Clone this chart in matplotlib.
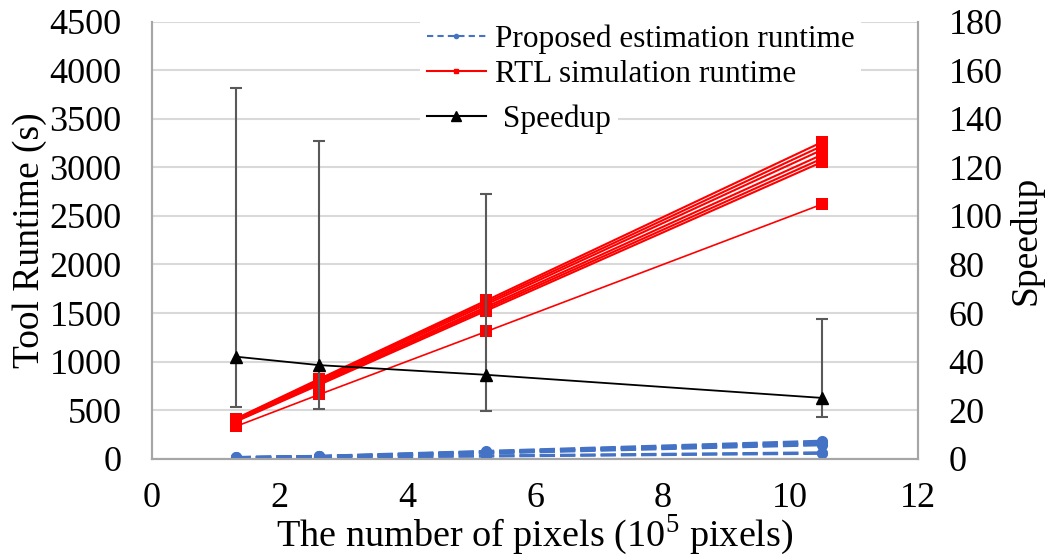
import matplotlib
matplotlib.use("Agg")
import matplotlib.pyplot as plt
from matplotlib.lines import Line2D
import numpy as np

plt.rcParams['font.family'] = ['Liberation Serif', 'DejaVu Serif']
plt.rcParams['mathtext.fontset'] = 'custom'
plt.rcParams['mathtext.rm'] = 'Liberation Serif'

# Data (x in 10^5 pixels)
pixels = [1.31, 2.62, 5.24, 10.49]

rtl_runtime = [
    [410, 820, 1630, 3260],
    [405, 810, 1610, 3220],
    [400, 795, 1590, 3180],
    [392, 780, 1565, 3130],
    [386, 770, 1545, 3090],
    [380, 760, 1525, 3055],
    [330, 660, 1310, 2620],
]
rtl_widths = [1.5, 1.5, 1.5, 1.5, 1.5, 1.5, 1.2]

est_runtime = [
    [12, 24, 75, 180],
    [11, 22, 70, 170],
    [10, 21, 65, 160],
    [10, 20, 60, 150],
    [9, 19, 55, 140],
    [8, 16, 28, 60],
    [7, 14, 24, 52],
]

speedup = [42, 38.5, 34.5, 25]
speedup_min = [21.2, 20.3, 19.7, 17.2]
speedup_max = [152.8, 131, 109, 57.5]

yticks_left = list(range(0, 4501, 500))
yticks_right = list(range(0, 181, 20))
xticks = list(range(0, 13, 2))

RED = "#ff0000"
BLUE = "#4472c4"
GRID = "#d9d9d9"
SPINE = "#a6a6a6"

fig = plt.figure(figsize=(10.51, 5.58), dpi=100)
ax = fig.add_axes([0.1446, 0.1783, 0.8735 - 0.1446, 0.9606 - 0.1783])
ax2 = ax.twinx()

for vals in est_runtime:
    ax.plot(pixels, vals, color=BLUE, lw=2.0, dashes=(5.5, 1.8),
            marker='o', markersize=8, markeredgewidth=0, zorder=3)
for vals, lw in zip(rtl_runtime, rtl_widths):
    ax.plot(pixels, vals, color=RED, lw=lw,
            marker='s', markersize=8, markeredgewidth=0, zorder=4)

sp = np.array(speedup)
yerr = [sp - np.array(speedup_min), np.array(speedup_max) - sp]
ax2.errorbar(pixels, speedup, yerr=yerr, color='black', lw=1.3,
             marker='^', markersize=8, ecolor='#595959', elinewidth=1.5,
             capsize=4, capthick=1.5, zorder=5)

ax.set_xlim(0, 12)
ax.set_ylim(0, 4500)
ax2.set_ylim(0, 180)
ax.set_xticks(xticks)
ax.set_yticks(yticks_left)
ax2.set_yticks(yticks_right)

ax.grid(axis='y', color=GRID, lw=1.5)
ax.set_axisbelow(True)

for a in (ax, ax2):
    a.spines['top'].set_visible(False)
    for s in ('left', 'right', 'bottom'):
        a.spines[s].set_color(SPINE)
        a.spines[s].set_linewidth(1.5)
    a.tick_params(length=0, labelsize=26)
ax.tick_params(axis='y', pad=22)
ax2.tick_params(axis='y', pad=22)
ax.tick_params(axis='x', pad=17)

ax.set_ylabel("Tool Runtime (s)", fontsize=27, labelpad=2)
ax2.set_ylabel("Speedup", fontsize=27, labelpad=4)
ax.set_xlabel("The number of pixels (10$^{\\mathrm{5}}$ pixels)", fontsize=27.5, labelpad=-2)

h1 = Line2D([], [], color=BLUE, lw=1.5, dashes=(3, 2), marker='o', markersize=3)
h2 = Line2D([], [], color=RED, lw=1.5, marker='s', markersize=3)
h3 = Line2D([], [], color='black', lw=1.5, marker='^', markersize=7)
leg = ax2.legend([h1, h2], ["Proposed estimation runtime", "RTL simulation runtime"],
                 loc='upper left', bbox_to_anchor=(0.33, 1.044), fontsize=22.5,
                 frameon=True, facecolor='white', edgecolor='none', framealpha=1,
                 handlelength=1.9, handletextpad=0.3, labelspacing=0.2,
                 borderpad=0.2, fancybox=False)
ax2.add_artist(leg)
ax2.legend([h3], [" Speedup"],
           loc='upper left', bbox_to_anchor=(0.33, 0.861), fontsize=22.5,
           frameon=True, facecolor='white', edgecolor='none', framealpha=1,
           handlelength=1.9, handletextpad=0.3, borderpad=0.2, fancybox=False)

fig.savefig("out.png", dpi=100)
